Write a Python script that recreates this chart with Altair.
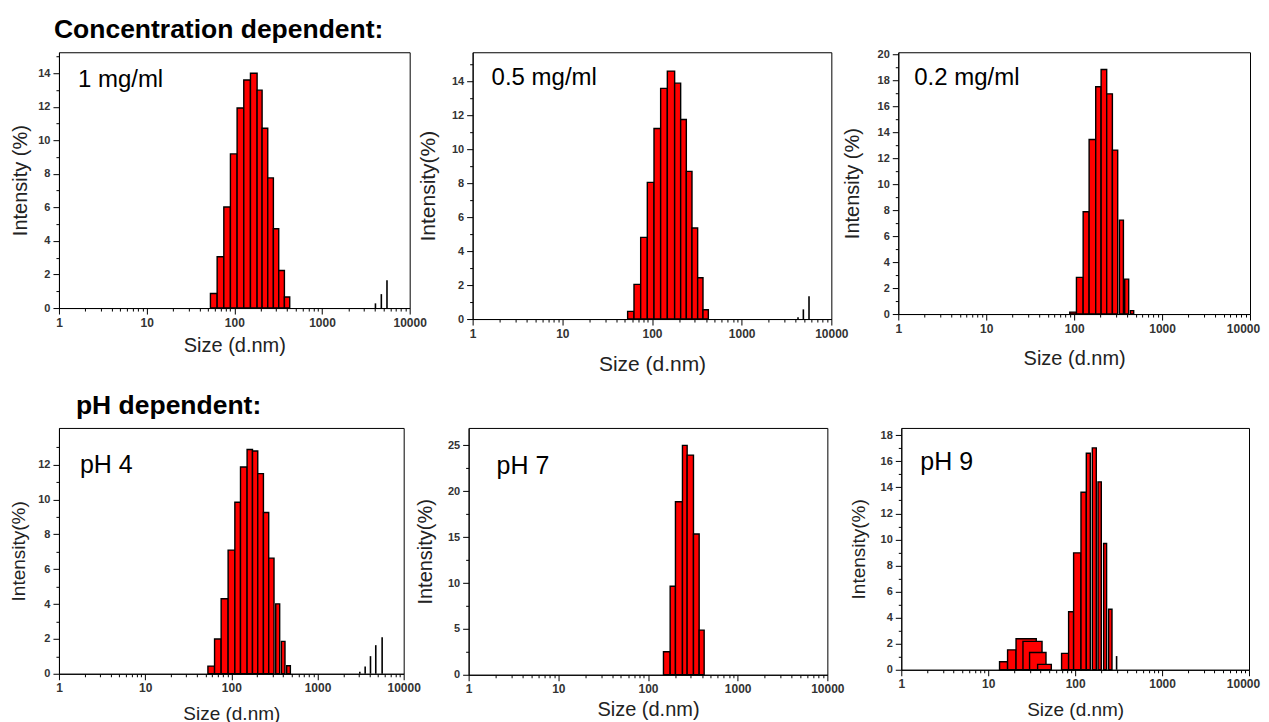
import altair as alt
import pandas as pd

# ---------------- data ----------------
section_titles = ["Concentration dependent:", "pH dependent:"]
panel_labels = ["1 mg/ml", "0.5 mg/ml", "0.2 mg/ml", "pH 4", "pH 7", "pH 9"]
x_tick_values = [1, 10, 100, 1000, 10000]
x_minor_values = [2, 3, 4, 5, 6, 7, 8, 9, 20, 30, 40, 50, 60, 70, 80, 90,
                  200, 300, 400, 500, 600, 700, 800, 900,
                  2000, 3000, 4000, 5000, 6000, 7000, 8000, 9000]
x_title = "Size (d.nm)"

# panel 1 : 1 mg/ml
p1_lo = [53.4, 63.7, 75.9, 90.3, 107.6, 128.2, 152.8, 181.9, 207.4, 240.6, 279, 321, 372.6]
p1_hi = [63.7, 75.9, 90.3, 107.6, 128.2, 152.8, 181.9, 207.4, 240.6, 279, 321, 372.6, 428.6]
p1_val = [0.87, 3.06, 6.02, 9.19, 11.93, 13.60, 14.0, 12.99, 10.72, 7.76, 4.73, 2.24, 0.66]
p1_spike_size = [4070, 4750, 5510]
p1_spike_val = [0.28, 0.83, 1.65]

# panel 2 : 0.5 mg/ml
p2_lo = [53.5, 63.0, 74.8, 88.7, 105.3, 124.9, 148.3, 178.9, 208.8, 241.5, 279.3, 323, 370.5]
p2_hi = [63.0, 74.8, 88.7, 105.3, 124.9, 148.3, 178.9, 208.8, 241.5, 279.3, 323, 370.5, 425]
p2_val = [0.45, 2.04, 4.81, 8.05, 11.23, 13.59, 14.61, 13.9, 11.76, 8.70, 5.36, 2.43, 0.55]
p2_spike_size = [4250, 4875, 5636]
p2_spike_val = [0.1, 0.57, 1.35]

# panel 3 : 0.2 mg/ml
p3_lo = [89.1, 106.2, 126.6, 148.0, 175.9, 202.6, 234.5, 272.2, 327.2, 375.7, 436.3]
p3_hi = [106.2, 126.6, 148.0, 175.9, 202.6, 234.5, 272.2, 312.8, 363.3, 417.2, 475.6]
p3_val = [0.15, 2.82, 7.87, 13.44, 17.49, 18.82, 16.95, 12.62, 7.23, 2.69, 0.26]
p3_spike_size = []
p3_spike_val = []

# panel 4 : pH 4
p4_lo = [53.5, 63.9, 76.2, 91.8, 109.9, 127.8, 152.4, 176.0, 202.6, 235.8, 271.6, 327.4, 381.0, 438.7]
p4_hi = [63.9, 76.2, 91.8, 109.9, 127.8, 152.4, 176.0, 202.6, 235.8, 271.6, 312.9, 364.1, 419.4, 484.3]
p4_val = [0.44, 1.99, 4.30, 7.09, 9.84, 11.86, 12.86, 12.78, 11.48, 9.25, 6.63, 4.01, 1.86, 0.46]
p4_spike_size = [3097, 3573, 4119, 4743, 5623]
p4_spike_val = [0.11, 0.42, 1.01, 1.64, 2.09]

# panel 5 : pH 7
p5_lo = [148.8, 176.7, 202.4, 242.3, 273.3, 321.5, 372.0]
p5_hi = [176.7, 202.4, 242.3, 273.3, 321.5, 372.0, 423]
p5_val = [2.50, 9.65, 18.86, 25.0, 23.94, 15.34, 4.86]
p5_spike_size = []
p5_spike_val = []

# panel 6 : pH 9
p6_lo = [13.5, 16.7, 20.9, 25.1, 29.9, 37.0, 69.8, 84.1, 96.0, 116.7, 134.4, 157.5, 183.2, 212.5, 242.5]
p6_hi = [16.7, 20.9, 35.7, 41.6, 46.2, 53.2, 84.1, 96.0, 116.7, 134.4, 149.4, 175.1, 199.9, 230.0, 265.4]
p6_val = [0.61, 1.53, 2.38, 2.18, 1.33, 0.41, 1.26, 4.45, 8.97, 13.63, 16.62, 17.03, 14.42, 9.69, 4.65]
p6_spike_size = [299.7]
p6_spike_val = [1.05]

FONT = "Liberation Sans"


def panel(lo, hi, val, sx, sy, label, lab_x, lab_y, lab_fs, ymax, ymajor, yminor,
          w, h, ytitle, ytp, xtp, tfs, last_shift=0,
          section=None, sec_x=0, sec_y=0):
    bars = pd.DataFrame({"lo": lo, "hi": hi, "val": val})
    spikes = pd.DataFrame({"size": sx, "val": sy})
    xs = alt.Scale(type="log", domain=[1, 10000], nice=False)
    ys = alt.Scale(domain=[0, ymax], nice=False, zero=True)

    x_axis_kw = dict(values=x_tick_values, format="d", title=x_title, tickSize=6,
                     labelPadding=3, titlePadding=xtp, grid=False, orient="bottom",
                     labelFlush=False, labelFontSize=12, titleFontSize=tfs)
    if last_shift:
        x_axis_kw["labelOffset"] = {"condition": {"test": "datum.value >= 10000",
                                                  "value": last_shift},
                                    "value": 0}
    bar_layer = alt.Chart(bars).mark_rect(
        color="#ff0000", stroke="#000000", strokeWidth=1.4
    ).encode(
        x=alt.X("lo:Q", scale=xs, axis=alt.Axis(**x_axis_kw)),
        x2="hi:Q",
        y=alt.Y("val:Q", scale=ys, axis=alt.Axis(
            values=ymajor, title=ytitle, tickSize=6, labelPadding=3,
            titlePadding=ytp, grid=False, orient="left", labelFlush=False,
            labelFontSize=11, titleFontSize=tfs)),
        y2=alt.datum(0),
    )
    minor_layer = alt.Chart(bars).mark_point(opacity=0).encode(
        x=alt.X("lo:Q", scale=xs, axis=alt.Axis(
            values=x_minor_values, labels=False, tickSize=3, domain=False,
            title=None, grid=False, orient="bottom")),
        y=alt.Y("val:Q", scale=ys, axis=alt.Axis(
            values=yminor, labels=False, tickSize=3, domain=False,
            title=None, grid=False, orient="left")),
    )
    layers = [bar_layer, minor_layer]
    if len(sx) > 0:
        spike_layer = alt.Chart(spikes).mark_rule(
            color="#000000", strokeWidth=1.6
        ).encode(
            x=alt.X("size:Q", scale=xs, axis=None),
            y=alt.Y("val:Q", scale=ys, axis=None),
            y2=alt.datum(0),
        )
        layers.append(spike_layer)
    lab_layer = alt.Chart(pd.DataFrame({"t": [label]})).mark_text(
        align="left", baseline="alphabetic", font=FONT, fontSize=lab_fs,
        color="#000000"
    ).encode(x=alt.value(lab_x), y=alt.value(lab_y), text="t:N")
    layers.append(lab_layer)
    if section is not None:
        sec_layer = alt.Chart(pd.DataFrame({"t": [section]})).mark_text(
            align="left", baseline="alphabetic", font=FONT, fontSize=26.5,
            fontWeight="bold", color="#000000"
        ).encode(x=alt.value(sec_x), y=alt.value(sec_y), text="t:N")
        layers.append(sec_layer)
    return alt.layer(*layers).resolve_scale(x="shared", y="shared").resolve_axis(
        x="independent", y="independent").properties(width=w, height=h)


even14 = [0, 2, 4, 6, 8, 10, 12, 14]
odd15 = [1, 3, 5, 7, 9, 11, 13, 15]

p1 = panel(p1_lo, p1_hi, p1_val, p1_spike_size, p1_spike_val, panel_labels[0], 19, 35, 24,
           15.25, even14, odd15, 351, 256, "Intensity (%)", 7, 7, 20,
           section=section_titles[0], sec_x=-5, sec_y=-14.5)
p2 = panel(p2_lo, p2_hi, p2_val, p2_spike_size, p2_spike_val, panel_labels[1], 19, 33, 24,
           15.72, even14, odd15, 359, 267, "Intensity(%)", 13, 15, 21)
p3 = panel(p3_lo, p3_hi, p3_val, p3_spike_size, p3_spike_val, panel_labels[2], 16, 33, 24,
           20.15, [0, 2, 4, 6, 8, 10, 12, 14, 16, 18, 20],
           [1, 3, 5, 7, 9, 11, 13, 15, 17, 19], 352, 262, "Intensity (%)", 15, 14, 20,
           last_shift=-7)
p4 = panel(p4_lo, p4_hi, p4_val, p4_spike_size, p4_spike_val, panel_labels[3], 21, 45, 25,
           14.1, [0, 2, 4, 6, 8, 10, 12], [1, 3, 5, 7, 9, 11, 13], 345, 246,
           "Intensity(%)", 9, 11, 19,
           section=section_titles[1], sec_x=17, sec_y=-13.5)
p5 = panel(p5_lo, p5_hi, p5_val, p5_spike_size, p5_spike_val, panel_labels[4], 28, 46, 25,
           26.9, [0, 5, 10, 15, 20, 25], [2.5, 7.5, 12.5, 17.5, 22.5], 359, 247,
           "Intensity(%)", 12, 4.5, 20)
p6 = panel(p6_lo, p6_hi, p6_val, p6_spike_size, p6_spike_val, panel_labels[5], 19, 42, 25,
           18.56, [0, 2, 4, 6, 8, 10, 12, 14, 16, 18], [1, 3, 5, 7, 9, 11, 13, 15, 17],
           348, 242, "Intensity(%)", 12, 11, 19, last_shift=-6)

row1 = alt.hconcat(p1, alt.hconcat(p2, p3, spacing=67, bounds="flush"),
                   spacing=63, bounds="flush")
row2 = alt.hconcat(p4, alt.hconcat(p5, p6, spacing=74, bounds="flush"),
                   spacing=65, bounds="flush")

chart = alt.vconcat(row1, row2, spacing=17).properties(
    padding={"left": 1, "top": 8, "right": 0, "bottom": 0},
    background="#ffffff",
).configure_view(
    stroke="#000000", strokeWidth=1
).configure_axis(
    domainColor="#000000", domainWidth=1, tickColor="#000000", tickWidth=1,
    labelFont=FONT, labelFontWeight="bold", labelColor="#333333",
    titleFont=FONT, titleFontWeight="normal", titleColor="#222222",
)

chart.save("out.html", embed_options={"renderer": "svg", "actions": False})
